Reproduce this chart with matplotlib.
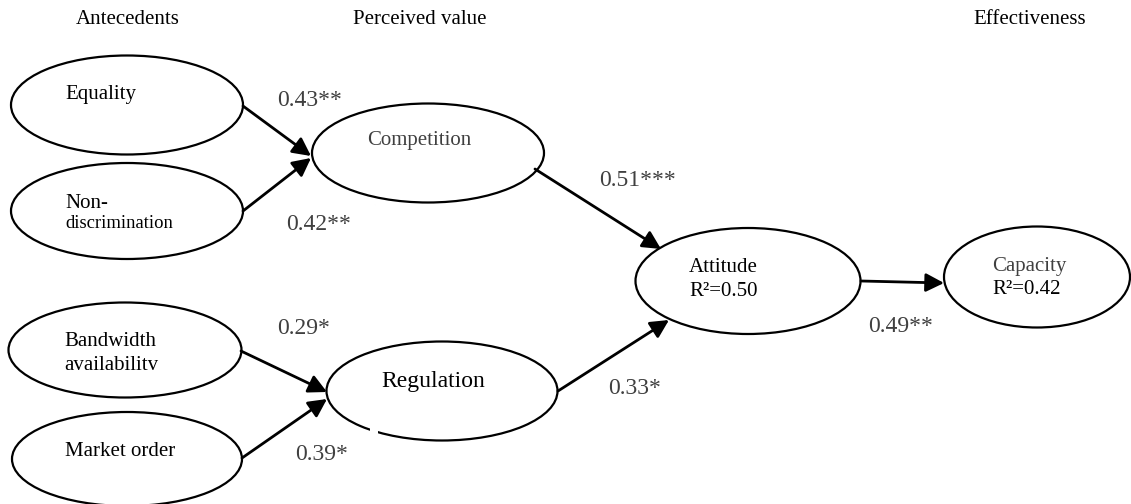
import matplotlib
matplotlib.use("Agg")
import matplotlib.pyplot as plt
from matplotlib.patches import Ellipse, Rectangle

plt.rcParams['font.family'] = ['Liberation Serif', 'DejaVu Serif']

# ---- data ----
headers = ["Antecedents", "Perceived value", "Effectiveness"]
node_names = ["Equality", "Non-discrimination", "Competition", "Bandwidth availability",
              "Market order", "Regulation", "Attitude", "Capacity"]
r_squared = {"Attitude": "0.50", "Capacity": "0.42"}
edge_from = ["Equality", "Non-discrimination", "Competition", "Bandwidth availability",
             "Market order", "Regulation", "Attitude"]
edge_to = ["Competition", "Competition", "Attitude", "Regulation",
           "Regulation", "Attitude", "Capacity"]
coefficients = ["0.43**", "0.42**", "0.51***", "0.29*", "0.39*", "0.33*", "0.49**"]

# ---- layout (pixel coordinates, y downward) ----
W, H = 1131, 504
header_pos = [(128, 20), (420, 20), (1030, 20)]
ellipses = {  # center x, center y, width, height
    "Equality": (127, 105, 232, 99),
    "Non-discrimination": (127, 211, 232, 96),
    "Competition": (428, 153, 232, 99),
    "Bandwidth availability": (125, 350, 233, 95),
    "Market order": (127, 459, 230, 94),
    "Regulation": (442, 391, 231, 99),
    "Attitude": (748, 281, 225, 106),
    "Capacity": (1037, 277, 186, 101),
}
# label text specs: list of (x, y, text, size, color)
label_specs = {
    "Equality": [(65, 94, "Equality", 15, "black")],
    "Non-discrimination": [(65, 203, "Non-", 15, "black"), (65, 224, "discrimination", 13.4, "black")],
    "Competition": [(367, 141, "Competition", 15, "#404040")],
    "Bandwidth availability": [(64, 342, "Bandwidth", 15, "black"), (64, 366, "availabilitv", 15, "black")],
    "Market order": [(65, 452, "Market order", 15, "black")],
    "Regulation": [(381, 382, "Regulation", 17, "black")],
    "Attitude": [(689, 267, "Attitude", 15, "black")],
    "Capacity": [(992, 266, "Capacity", 15, "#404040")],
}
r2_pos = {"Attitude": (689, 292), "Capacity": (992, 289)}
arrow_coords = [
    ((243, 106), (311, 156)),
    ((243, 211), (311, 158)),
    ((535, 169), (661, 249)),
    ((241, 351), (327, 392)),
    ((242, 458), (327, 399)),
    ((558, 391), (669, 320)),
    ((861, 281), (944, 283)),
]
coef_pos = [(277, 100), (286, 225), (599, 181), (277, 329), (295, 454), (608, 388), (868, 326)]

# ---- drawing ----
fig = plt.figure(figsize=(W / 100, H / 100), dpi=100)
ax = fig.add_axes([0, 0, 1, 1])
ax.set_xlim(0, W)
ax.set_ylim(H, 0)
ax.axis('off')

for (x, y), t in zip(header_pos, headers):
    ax.text(x, y, t, ha='center', va='center', fontsize=15, color='black')

for name in node_names:
    cx, cy, w, h = ellipses[name]
    ax.add_patch(Ellipse((cx, cy), w, h, facecolor='white', edgecolor='black', lw=1.6, zorder=2))
    for (x, y, t, s, c) in label_specs[name]:
        ax.text(x, y, t, ha='left', va='center', fontsize=s, color=c, zorder=4)
    if name in r_squared:
        x, y = r2_pos[name]
        ax.text(x, y, "R\u00b2=" + r_squared[name], ha='left', va='center', fontsize=15,
                color='black', zorder=4)

# small gap in Regulation outline
ax.add_patch(Rectangle((370, 425), 8, 12, facecolor='white', edgecolor='none', zorder=3))

for (src, dst), (x0y0, x1y1), coef, (tx, ty) in zip(zip(edge_from, edge_to), arrow_coords,
                                                    coefficients, coef_pos):
    ax.annotate('', xy=x1y1, xytext=x0y0,
                arrowprops=dict(arrowstyle='-|>,head_length=0.55,head_width=0.28',
                                mutation_scale=20, lw=2.0, color='black',
                                shrinkA=0, shrinkB=0), zorder=5)
    ax.text(tx, ty, coef, ha='left', va='center', fontsize=17, color='#404040')

fig.savefig('out.png', dpi=100)
